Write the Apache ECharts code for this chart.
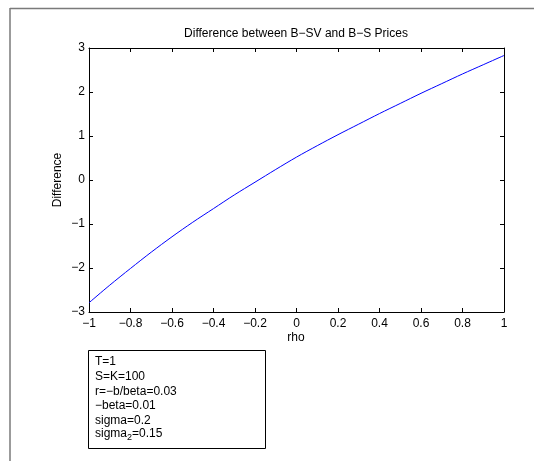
<!DOCTYPE html>
<html>
<head>
<meta charset="utf-8">
<script src="https://cdn.jsdelivr.net/npm/echarts@6/dist/echarts.min.js"></script>
<style>
  html, body { margin: 0; padding: 0; background: #fff; }
  #chart { width: 534px; height: 461px; }
</style>
</head>
<body>
<div id="chart"></div>
<script>
// B-SV minus B-S price as a function of rho
const rho = [-1, -0.9, -0.8, -0.7, -0.6, -0.5, -0.4, -0.3, -0.2, -0.1, 0,
  0.1, 0.2, 0.3, 0.4, 0.5, 0.6, 0.7, 0.8, 0.9, 1]
const diff = [-2.79, -2.39, -2.01, -1.64, -1.29, -0.96, -0.65, -0.34, -0.05, 0.24, 0.52,
  0.78, 1.03, 1.27, 1.51, 1.74, 1.97, 2.19, 2.41, 2.62, 2.83]

const paramLines = ['T=1', 'S=K=100', 'r=\u2212b/beta=0.03', '\u2212beta=0.01', 'sigma=0.2']

const FONT = '"Liberation Sans", Arial, sans-serif'
const minus = v => String(+v.toFixed(1)).replace('-', '\u2212')

const chart = echarts.init(document.getElementById('chart'))

const axisBase = {
  type: 'value',
  axisLine: { show: true, onZero: false, lineStyle: { color: '#000', width: 1 } },
  axisTick: { show: true, inside: true, length: 4, lineStyle: { color: '#000' } },
  splitLine: { show: false },
  axisLabel: { color: '#000', fontSize: 12, fontFamily: FONT, formatter: minus }
}

const graphics = [
  // figure frame (top and left edge only)
  { type: 'line', shape: { x1: 10, y1: 8.5, x2: 534, y2: 8.5 }, style: { stroke: '#7a7a7a', lineWidth: 1.5 } },
  { type: 'line', shape: { x1: 10, y1: 8, x2: 10, y2: 461 }, style: { stroke: '#7a7a7a', lineWidth: 1.5 } },
  { type: 'text', x: 296, y: 34, style: { text: 'Difference between B\u2212SV and B\u2212S Prices', font: '12px ' + FONT, fill: '#000', textAlign: 'center', textVerticalAlign: 'middle' } },
  { type: 'text', x: 296, y: 338, style: { text: 'rho', font: '12px ' + FONT, fill: '#000', textAlign: 'center', textVerticalAlign: 'middle' } },
  { type: 'text', x: 58, y: 180, rotation: Math.PI / 2, style: { text: 'Difference', font: '12px ' + FONT, fill: '#000', textAlign: 'center', textVerticalAlign: 'middle' } },
  { type: 'rect', shape: { x: 88.5, y: 350.5, width: 177, height: 98 }, style: { fill: '#fff', stroke: '#000', lineWidth: 1 } }
]

paramLines.forEach((t, i) => {
  graphics.push({ type: 'text', x: 95, y: 362 + i * 14.6, style: { text: t, font: '12px ' + FONT, fill: '#000', textVerticalAlign: 'middle' } })
})
graphics.push({
  type: 'text', x: 95, y: 435,
  style: {
    text: '{a|sigma}{b|2}{a|=0.15}',
    textVerticalAlign: 'middle',
    rich: {
      a: { fontSize: 12, fontFamily: FONT, color: '#000', verticalAlign: 'top' },
      b: { fontSize: 9, fontFamily: FONT, color: '#000', verticalAlign: 'bottom', padding: [6, 0, 0, 0] }
    }
  }
})

chart.setOption({
  animation: false,
  backgroundColor: '#fff',
  grid: { left: 89, top: 48, width: 415, height: 264, containLabel: false },
  xAxis: [
    Object.assign({}, axisBase, { position: 'bottom', min: -1, max: 1, interval: 0.2, axisLabel: Object.assign({}, axisBase.axisLabel, { margin: 6 }) }),
    Object.assign({}, axisBase, { position: 'top', min: -1, max: 1, interval: 0.2, axisLabel: { show: false } })
  ],
  yAxis: [
    Object.assign({}, axisBase, { position: 'left', min: -3, max: 3, interval: 1, axisLabel: Object.assign({}, axisBase.axisLabel, { margin: 4 }) }),
    Object.assign({}, axisBase, { position: 'right', min: -3, max: 3, interval: 1, axisLabel: { show: false } })
  ],
  series: [{
    type: 'line',
    xAxisIndex: 0,
    yAxisIndex: 0,
    data: rho.map((r, i) => [r, diff[i]]),
    showSymbol: false,
    smooth: 0.3,
    lineStyle: { color: '#0000ff', width: 1 }
  }],
  graphic: graphics
})
</script>
</body>
</html>
